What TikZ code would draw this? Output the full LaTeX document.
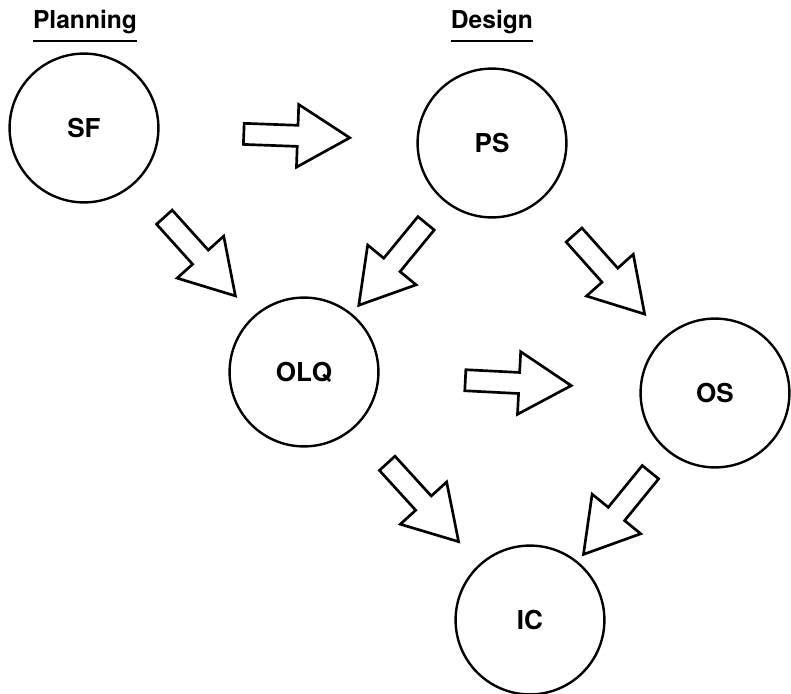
\documentclass[tikz,border=0pt]{standalone}
\usepackage{fontspec}
\setmainfont{TeX Gyre Heros}
\usetikzlibrary{shapes.arrows}

\begin{document}
\begin{tikzpicture}[x=0.025cm, y=-0.025cm,
    stage/.style={circle, draw, line width=1.7pt, minimum size=3.72cm, inner sep=0pt,
      font=\fontsize{18.5}{22}\selectfont\bfseries},
    heading/.style={inner sep=0pt, font=\fontsize{17.5}{21}\selectfont\bfseries},
    flow/.style={single arrow, draw, line width=1.9pt, inner xsep=0pt, inner ysep=0.23cm,
      minimum height=2.65cm, single arrow head extend=0.52cm,
      single arrow tip angle=62, sloped, allow upside down}]
  \useasboundingbox (0,0) rectangle (791,694);
  % headings
  \node[heading] (plan) at (85,22) {Planning};
  \node[heading] (design) at (492,22) {Design};
  \draw[line width=1pt] ([yshift=-0.475cm]plan.west) -- ([yshift=-0.475cm]plan.east);
  \draw[line width=1pt] ([yshift=-0.475cm]design.west) -- ([yshift=-0.475cm]design.east);
  % stages
  \node[stage] (sf) at (84,128) {SF};
  \node[stage] (ps) at (492,143) {PS};
  \node[stage] (olq) at (304,372) {OLQ};
  \node[stage] (os) at (715,393) {OS};
  \node[stage] (ic) at (530,620) {IC};
  % block arrows between stages
  \path (sf) -- node[flow] (a1) {} (ps);
  \path (sf) -- node[flow] (a2) {} (olq);
  \path (ps) -- node[flow] (a3) {} (olq);
  \path (ps) -- node[flow] (a4) {} (os);
  \path (olq) -- node[flow] (a5) {} (os);
  \path (olq) -- node[flow] (a6) {} (ic);
  \path (os) -- node[flow] (a7) {} (ic);
\end{tikzpicture}
\end{document}
